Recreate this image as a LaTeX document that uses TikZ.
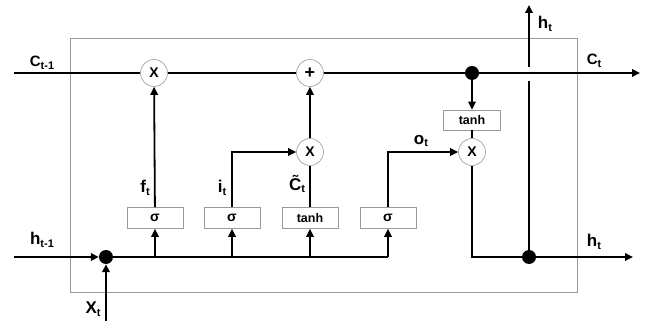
\documentclass[tikz,border=0pt]{standalone}
\usepackage{fontspec}
\setmainfont{Liberation Sans}
\usetikzlibrary{arrows.meta}
\newcommand\mysub[1]{\raisebox{-0.3ex}{\fontsize{11}{11}\selectfont #1}}
\newcommand\sg{{\fontsize{14}{14}\selectfont σ}}
\begin{document}
\begin{tikzpicture}[x=1pt,y=-1pt,
  wire/.style={line width=1.8pt},
  arr/.style={line width=1.8pt,-{Triangle[length=8pt,width=7.5pt]}},
  op/.style={circle,draw=gray!80,line width=0.6pt,minimum size=27pt,inner sep=0pt,fill=white,font=\bfseries\fontsize{14}{14}\selectfont},
  gate/.style={rectangle,draw=gray!80,line width=0.6pt,minimum width=56pt,minimum height=21pt,inner sep=0pt,fill=white,font=\bfseries\fontsize{12.5}{12.5}\selectfont},
  jdot/.style={circle,fill=black,minimum size=14pt,inner sep=0pt},
  lab/.style={font=\bfseries\fontsize{17}{17}\selectfont,inner sep=0pt},
  clab/.style={font=\bfseries\fontsize{15}{15}\selectfont,inner sep=0pt}]
\useasboundingbox (0,0) rectangle (653,328);
% outer cell
\draw[gray!80,line width=0.8pt] (70,38) rectangle (577,292);
% nodes
\coordinate (cin) at (14,73);
\coordinate (cout) at (640,73);
\node[op] (m1) at (154,73) {X};
\node[op,font=\bfseries\fontsize{18}{18}\selectfont] (p1) at (310,73) {+};
\node[op] (m2) at (310,152) {X};
\node[jdot] (cdot) at (472,73) {};
\node[gate,minimum width=57pt,minimum height=20pt] (tc) at (472,120) {tanh};
\node[op] (m3) at (472,152) {X};
\coordinate (hin) at (14,257);
\node[jdot] (xdot) at (106,257) {};
\coordinate (xin) at (106,321);
\node[gate] (g1) at (155,218) {\sg};
\node[gate] (g2) at (232,218) {\sg};
\node[gate] (g3) at (310,218) {tanh};
\node[gate] (g4) at (388,218) {\sg};
\coordinate (hend) at (388,257);
\coordinate (mcorner) at (472,257);
\node[jdot] (hdot) at (529,257) {};
\coordinate (hout) at (633,257);
\coordinate (gaplo) at (529,81);
\coordinate (gaphi) at (529,67);
\coordinate (htop) at (529,5);
\coordinate (b1) at (155,257);
\coordinate (b2) at (232,257);
\coordinate (b3) at (310,257);
% cell state line
\draw[wire] (cin) -- (m1);
\draw[wire] (m1) -- (p1);
\draw[arr] (p1) -- (cout);
% input line
\draw[arr] (hin) -- (xdot);
\draw[arr] (xin) -- (xdot);
\draw[wire] (xdot) -- (hend);
\draw[arr] (b1) -- (g1);
\draw[arr] (b2) -- (g2);
\draw[arr] (b3) -- (g3);
\draw[arr] (hend) -- (g4);
% gates
\draw[arr] (g1) -- (m1);
\draw[arr] (g2.north) |- (m2.west);
\draw[wire] (g3) -- (m2);
\draw[arr] (m2) -- (p1);
\draw[arr] (g4.north) |- (m3.west);
% output
\draw[arr] (cdot) -- (tc);
\draw[wire] (tc) -- (m3);
\draw[wire] (m3) -- (mcorner) -- (hdot);
\draw[arr] (hdot) -- (hout);
\draw[wire] (hdot) -- (gaplo);
\draw[arr] (gaphi) -- (htop);
% labels
\node[clab] (lct1) at (42,63) {C\mysub{t-1}};
\node[clab] (lct) at (594,61) {C\mysub{t}};
\node[lab] (lhtt) at (545,24) {h\mysub{t}};
\node[lab] (lhtr) at (594,242) {h\mysub{t}};
\node[lab] (lht1) at (42,240) {h\mysub{t-1}};
\node[lab] (lxt) at (93,309) {X\mysub{t}};
\node[lab] (lf) at (145,188) {f\mysub{t}};
\node[lab] (li) at (222,188) {i\mysub{t}};
\node[lab] (lc) at (297,184) {C\char"0303\mysub{t}};
\node[lab] (lo) at (421,141) {o\mysub{t}};
\end{tikzpicture}
\end{document}
